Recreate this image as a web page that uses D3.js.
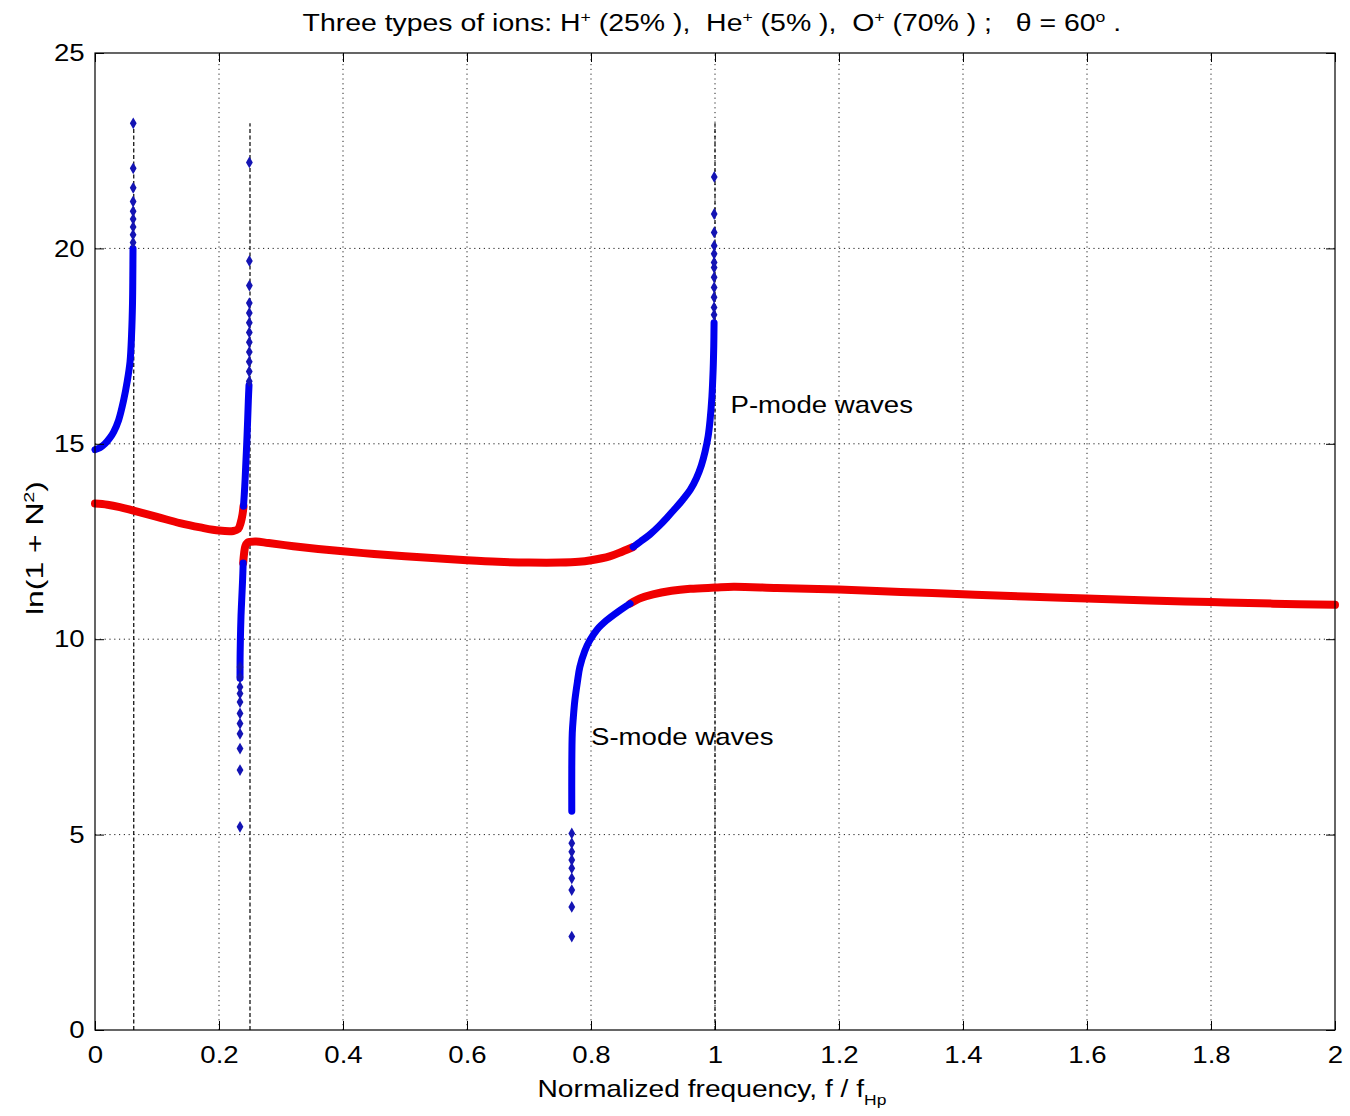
<!DOCTYPE html>
<html><head><meta charset="utf-8">
<script src="https://cdn.jsdelivr.net/npm/d3@7"></script>
<style>
body{margin:0;background:#fff}
svg text{font-family:"Liberation Sans",Arial,Helvetica,sans-serif;fill:#000}
</style>
</head><body>
<svg id="chart" width="1350" height="1116"></svg>
<script>
// ---------------- data ----------------
const xTicks = [0,0.2,0.4,0.6,0.8,1,1.2,1.4,1.6,1.8,2];
const xTickLabels = ["0","0.2","0.4","0.6","0.8","1","1.2","1.4","1.6","1.8","2"];
const yTicks = [0,5,10,15,20,25];
const yTickLabels = ["0","5","10","15","20","25"];
const resonanceFreqs = [0.0625, 0.25, 1.0];   // O+, He+, H+ gyrofrequencies
const resonanceTop = 23.2;

// branch below O+ gyrofrequency (blue, dense part)
const blueOxygen = [[0,14.85],[0.008,14.9],[0.016,15.0],[0.024,15.15],[0.03,15.3],[0.038,15.6],[0.046,16.1],[0.052,16.6],[0.0565,17.1],[0.059,17.8],[0.0605,18.6],[0.061,19.3],[0.0613,20.0]];
const blueOxygenSparse = [[0.0614,20.15],[0.0614,20.35],[0.0615,20.55],[0.0615,20.75],[0.0615,20.95],[0.0615,21.2],[0.0616,21.55],[0.0616,22.05],[0.0617,23.2]];

// upper branch between O+ and He+ (red, then blue)
const redBelowHe = [[0,13.47],[0.02,13.44],[0.04,13.38],[0.062,13.29],[0.1,13.13],[0.137,12.97],[0.17,12.86],[0.2,12.78],[0.223,12.77],[0.231,12.82],[0.235,12.98],[0.238,13.2],[0.2395,13.4]];
const blueBelowHe = [[0.2395,13.4],[0.2415,13.9],[0.243,14.4],[0.2447,15.0],[0.2462,15.6],[0.2473,16.1],[0.2484,16.5]];
const blueBelowHeSparse = [[0.2488,16.6],[0.2488,16.85],[0.2488,17.1],[0.2489,17.35],[0.2489,17.6],[0.2489,17.85],[0.2489,18.1],[0.2489,18.35],[0.2489,18.6],[0.249,19.05],[0.249,19.68],[0.249,22.2]];

// lower branch near He+ (blue rising, then red P-mode continuing)
const blueAboveHe = [[0.2339,9.0],[0.234,9.5],[0.2345,10.0],[0.2355,10.6],[0.2366,11.0],[0.238,11.5],[0.239,11.95]];
const blueAboveHeSparse = [[0.2339,9.29],[0.2339,9.03],[0.2339,8.78],[0.2339,8.61],[0.2339,8.39],[0.2339,8.1],[0.2339,7.84],[0.2339,7.58],[0.2339,7.2],[0.2339,6.65],[0.2339,5.2]];
const redPMode = [[0.239,11.95],[0.2405,12.2],[0.2425,12.38],[0.246,12.47],[0.25,12.49],[0.26,12.5],[0.28,12.46],[0.32,12.38],[0.36,12.31],[0.4,12.25],[0.45,12.18],[0.5,12.12],[0.55,12.07],[0.6,12.02],[0.65,11.98],[0.7,11.96],[0.75,11.96],[0.78,11.98],[0.8,12.02],[0.83,12.12],[0.85,12.24],[0.868,12.36]];
const bluePMode = [[0.868,12.36],[0.88,12.5],[0.895,12.68],[0.91,12.9],[0.922,13.1],[0.935,13.33],[0.948,13.57],[0.96,13.82],[0.97,14.12],[0.978,14.45],[0.984,14.8],[0.989,15.2],[0.992,15.6],[0.995,16.2],[0.997,16.9],[0.998,17.5],[0.9985,18.1]];
const bluePModeSparse = [[0.9985,18.3],[0.9985,18.49],[0.9985,18.75],[0.9986,19.0],[0.9986,19.26],[0.9986,19.51],[0.9986,19.64],[0.9986,19.86],[0.9987,20.07],[0.9987,20.41],[0.9987,20.88],[0.9988,21.83]];

// S-mode branch (blue rising from low values, then red)
const blueSMode = [[0.769,5.6],[0.769,6.7],[0.7698,7.6],[0.7715,8.0],[0.774,8.44],[0.778,8.9],[0.782,9.29],[0.79,9.7],[0.798,9.97],[0.81,10.25],[0.825,10.48],[0.845,10.72],[0.863,10.91]];
const blueSModeSparse = [[0.769,5.03],[0.769,4.78],[0.769,4.56],[0.769,4.35],[0.769,4.14],[0.769,3.88],[0.769,3.58],[0.769,3.15],[0.769,2.39]];
const redSMode = [[0.863,10.91],[0.88,11.05],[0.9,11.15],[0.93,11.24],[0.96,11.29],[1.0,11.32],[1.03,11.34],[1.1,11.31],[1.2,11.27],[1.3,11.21],[1.4,11.15],[1.5,11.09],[1.6,11.04],[1.7,10.99],[1.8,10.95],[1.9,10.91],[2.0,10.88]];

const annotations = [{text:"P-mode waves", f:1.025, v:15.78},{text:"S-mode waves", f:0.8, v:7.3}];

// ---------------- drawing ----------------
const W = 1350, H = 1116;
const M = {left:95, right:15, top:53, bottom:86};
const svg = d3.select("#chart");
svg.append("rect").attr("width",W).attr("height",H).attr("fill","#fff");

const x = d3.scaleLinear().domain([0,2]).range([M.left, W - M.right]);
const y = d3.scaleLinear().domain([0,25]).range([H - M.bottom, M.top]);
const SX = 1.15; // horizontal stretch of the reference's lettering

// grid
const grid = svg.append("g").attr("stroke","#222").attr("stroke-width",1).attr("stroke-dasharray","1.2,3.6");
grid.selectAll("line.gx").data(xTicks.slice(1,-1)).join("line")
  .attr("x1",d=>x(d)).attr("x2",d=>x(d)).attr("y1",y(0)).attr("y2",y(25));
grid.selectAll("line.gy").data(yTicks.slice(1,-1)).join("line")
  .attr("y1",d=>y(d)).attr("y2",d=>y(d)).attr("x1",x(0)).attr("x2",x(2));

// resonance dashed lines
svg.append("g").selectAll("line").data(resonanceFreqs).join("line")
  .attr("x1",d=>x(d)).attr("x2",d=>x(d)).attr("y1",y(0)).attr("y2",y(resonanceTop))
  .attr("stroke","#000").attr("stroke-width",1.2).attr("stroke-dasharray","4,2.5");

// curves
const line = d3.line().x(d=>x(d[0])).y(d=>y(d[1])).curve(d3.curveCatmullRom.alpha(0.5));
const curves = svg.append("g").attr("fill","none").attr("stroke-linecap","round").attr("stroke-linejoin","round");
[redBelowHe, redPMode, redSMode].forEach(s=>{
  curves.append("path").datum(s).attr("d",line).attr("stroke","#f00000").attr("stroke-width",8);
});
[blueOxygen, blueBelowHe, blueAboveHe, bluePMode, blueSMode].forEach(s=>{
  curves.append("path").datum(s).attr("d",line).attr("stroke","#0000f0").attr("stroke-width",7);
});
const diamond = d3.symbol().type(d3.symbolDiamond).size(40);
svg.append("g").selectAll("path")
  .data([].concat(blueOxygenSparse, blueBelowHeSparse, blueAboveHeSparse, bluePModeSparse, blueSModeSparse))
  .join("path").attr("d",diamond)
  .attr("transform",d=>`translate(${x(d[0])},${y(d[1])})`)
  .attr("fill","#1414b4");

// axes (inward ticks on all four sides)
const styleAxis = g => { g.select(".domain").remove(); g.selectAll(".tick line").attr("stroke","#000"); };
svg.append("g").attr("transform",`translate(0,${y(0)})`)
  .call(d3.axisBottom(x).tickValues(xTicks).tickFormat((d,i)=>xTickLabels[i]).tickSize(-9).tickPadding(16))
  .call(styleAxis)
  .call(g=>g.selectAll("text").attr("font-size",24).attr("font-family",null).attr("transform",`scale(${SX},1)`));
svg.append("g").attr("transform",`translate(0,${y(25)})`)
  .call(d3.axisTop(x).tickValues(xTicks).tickFormat("").tickSize(-9)).call(styleAxis);
svg.append("g").attr("transform",`translate(${x(0)},0)`)
  .call(d3.axisLeft(y).tickValues(yTicks).tickFormat((d,i)=>yTickLabels[i]).tickSize(-9).tickPadding(9))
  .call(styleAxis)
  .call(g=>g.selectAll("text").attr("font-size",24).attr("font-family",null).attr("transform",`scale(${SX},1)`));
svg.append("g").attr("transform",`translate(${x(2)},0)`)
  .call(d3.axisRight(y).tickValues(yTicks).tickFormat("").tickSize(-9)).call(styleAxis);

// box
svg.append("rect").attr("x",x(0)).attr("y",y(25)).attr("width",x(2)-x(0)).attr("height",y(0)-y(25))
  .attr("fill","none").attr("stroke","#000").attr("stroke-width",1.2);

// annotations
svg.append("g").selectAll("text").data(annotations).join("text")
  .attr("transform",d=>`translate(${x(d.f)},${y(d.v)}) scale(${SX},1)`)
  .attr("font-size",24).text(d=>d.text);

// helper for rich text: parts [text, kind]
function rich(g, parts, size){
  const t = g.append("text").attr("font-size",size).style("white-space","pre");
  let shift = 0;
  parts.forEach(([s,k])=>{
    const target = k==="sup" ? -9 : k==="sub" ? 8 : 0;
    t.append("tspan").attr("dy",target-shift).attr("font-size",k? size*0.62 : size).text(s);
    shift = target;
  });
  return t;
}
function fit(t, width, cx, cy, rot){
  const bb = t.node().getBBox();
  const s = width / bb.width;
  t.attr("x",-bb.width/2 - bb.x);
  t.attr("transform",`translate(${cx},${cy})${rot?` rotate(${rot})`:""} scale(${s},1)`);
}

// title
const title = rich(svg.append("g"), [
  ["Three types of ions: H"],["+","sup"],[" (25% ),  He"],["+","sup"],[" (5% ),  O"],["+","sup"],
  [" (70% ) ;   θ = 60"],["o","sup"],[" ."]], 24);
fit(title, 819, 712, 31);

// x label
const xl = rich(svg.append("g"), [["Normalized frequency, f / f"],["Hp","sub"]], 24);
fit(xl, 349, 712, 1097);

// y label
const yl = rich(svg.append("g"), [["ln(1 + N"],["2","sup"],[")"]], 24);
fit(yl, 134, 43, 548, -90);
</script>
</body></html>
